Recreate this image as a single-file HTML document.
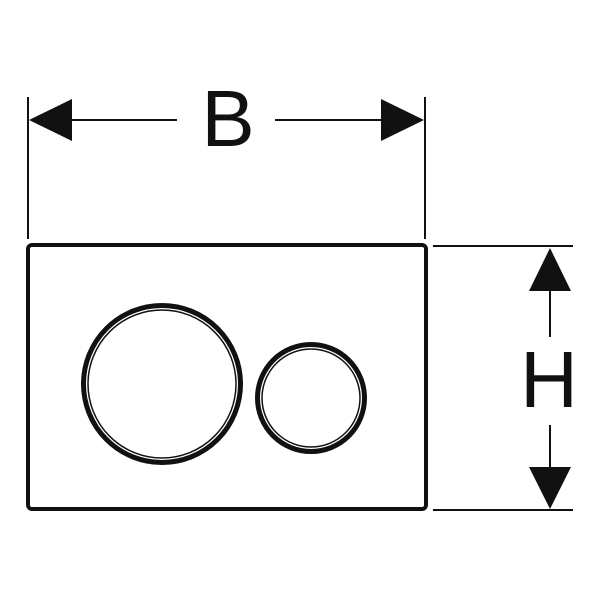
<!DOCTYPE html>
<html><head><style>body{margin:0;background:#fff}svg{display:block}</style></head><body>
<svg width="600" height="600" viewBox="0 0 600 600" xmlns="http://www.w3.org/2000/svg">
<g stroke="#111" fill="none">
<line x1="28" y1="97" x2="28" y2="239" stroke-width="2"/>
<line x1="425" y1="97" x2="425" y2="239" stroke-width="2"/>
<line x1="60" y1="120" x2="177" y2="120" stroke-width="2"/>
<line x1="275" y1="120" x2="395" y2="120" stroke-width="2"/>
<line x1="433" y1="246" x2="573" y2="246" stroke-width="2"/>
<line x1="433" y1="510" x2="573" y2="510" stroke-width="2"/>
<line x1="550" y1="280" x2="550" y2="337" stroke-width="2"/>
<line x1="550" y1="425" x2="550" y2="480" stroke-width="2"/>
<rect x="28" y="245" width="398" height="264" rx="4" stroke-width="4"/>
<circle cx="162" cy="384" r="78.5" stroke-width="5"/>
<circle cx="162" cy="384" r="74" stroke-width="1.5"/>
<circle cx="311" cy="398" r="53.5" stroke-width="5"/>
<circle cx="311" cy="398" r="49" stroke-width="1.5"/>
</g>
<g fill="#111">
<polygon points="29,120 72,99 72,141"/>
<polygon points="424,120 381,99 381,141"/>
<polygon points="550,248 529,291 571,291"/>
<polygon points="550,509 529,467 571,467"/>
</g>
<text x="228" y="146" font-family="Liberation Sans, sans-serif" font-size="80" text-anchor="middle" fill="#111">B</text>
<text x="549" y="407" font-family="Liberation Sans, sans-serif" font-size="80" text-anchor="middle" fill="#111">H</text>
</svg>
</body></html>
